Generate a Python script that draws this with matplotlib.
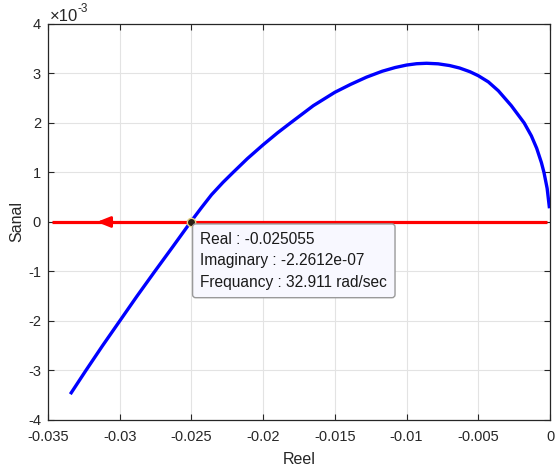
"""Nyquist locus with a data tip at the real-axis crossing."""

import matplotlib.pyplot as plt

plt.rcParams["font.family"] = ["Liberation Sans", "DejaVu Sans"]
plt.rcParams["axes.unicode_minus"] = False

# positive-frequency branch (real part, imaginary part in units of 1e-3)
locus_real = [-0.03338, -0.03236, -0.0312, -0.0300, -0.0288, -0.02756,
              -0.0263, -0.025055, -0.0243, -0.0236, -0.0228, -0.0221,
              -0.0211, -0.0200, -0.0190, -0.0181, -0.0165, -0.0150,
              -0.0139, -0.0128, -0.0117, -0.0108, -0.0100, -0.0093,
              -0.0086, -0.0078, -0.0070, -0.0063, -0.00558, -0.0050,
              -0.0043, -0.0036, -0.0027, -0.0018, -0.0013, -0.00093,
              -0.0006, -0.00042, -0.0002, -0.00005]
locus_imag = [-3.45, -3.0, -2.5, -2.0, -1.5, -1.0,
              -0.5, 0.0, 0.29, 0.55, 0.8, 1.0,
              1.28, 1.56, 1.8, 2.0, 2.35, 2.62,
              2.78, 2.925, 3.045, 3.12, 3.17, 3.197,
              3.206, 3.195, 3.16, 3.11, 3.035, 2.955,
              2.83, 2.65, 2.35, 2.0, 1.74, 1.49,
              1.2, 1.0, 0.68, 0.31]

# real-axis segment (imaginary part ~ 0)
axis_real = [-0.0347, -0.0002]
axis_imag = [0.0, 0.0]
arrow_real = [-0.0305, -0.0316]

tip_real = -0.025055
tip_imag = -2.2612e-07
tip_freq = 32.911

x_ticks = [-0.035, -0.03, -0.025, -0.02, -0.015, -0.01, -0.005, 0]
x_tick_labels = ["-0.035", "-0.03", "-0.025", "-0.02", "-0.015", "-0.01", "-0.005", "0"]
y_ticks = [-4, -3, -2, -1, 0, 1, 2, 3, 4]

fig = plt.figure(figsize=(5.55, 4.7), dpi=100)
ax = fig.add_axes([0.0865, 0.1064, 0.9045, 0.8426])

ax.plot(axis_real, axis_imag, color="#ff0000", lw=2.3, solid_capstyle="butt", zorder=3)
ax.annotate("", xy=(arrow_real[1], 0), xytext=(arrow_real[0], 0),
            arrowprops=dict(arrowstyle="-|>,head_length=0.8,head_width=0.32",
                            color="#ff0000", lw=2.0, shrinkA=0, shrinkB=0),
            zorder=3)
ax.plot(locus_real, locus_imag, color="#0000ff", lw=2.4, solid_joinstyle="round",
        zorder=4)

ax.plot([tip_real], [tip_imag * 1e3], "o", ms=6, mfc="#2a1f14", mec="#e6d48a",
        mew=1.0, zorder=6)
ax.annotate(
    f"Real : {tip_real}\nImaginary : {tip_imag:.4e}\nFrequancy : {tip_freq} rad/sec",
    xy=(tip_real, tip_imag * 1e3), xytext=(7.0, -7.0), textcoords="offset points",
    ha="left", va="top", fontsize=11.2, color="#1a1a1a", linespacing=1.55,
    bbox=dict(boxstyle="round,pad=0.5,rounding_size=0.2", fc="#f8f8ff",
              ec="#9a9a9a", lw=1.0),
    zorder=7,
)

ax.set_xlim(-0.035, 0)
ax.set_ylim(-4, 4)
ax.set_xticks(x_ticks)
ax.set_xticklabels(x_tick_labels)
ax.set_yticks(y_ticks)
ax.tick_params(direction="in", top=True, right=True, labelsize=10.5,
               colors="#262626", length=4, width=0.8)
ax.tick_params(axis="x", pad=7)
ax.tick_params(axis="y", pad=5)
ax.grid(True, color="#e3e3e3", lw=0.8)
ax.set_axisbelow(True)
for side in ax.spines.values():
    side.set_color("#262626")
    side.set_linewidth(0.9)

ax.set_xlabel("Reel", fontsize=11.5, color="#262626", labelpad=6)
ax.set_ylabel("Sanal", fontsize=11.5, color="#262626", labelpad=3)

# axis exponent, written as base plus raised power
fig.text(50 / 555, 1 - 21 / 470, "\u00d710", fontsize=12, color="#262626",
         ha="left", va="baseline")
fig.text(77 / 555, 1 - 12 / 470, "-3", fontsize=8.5, color="#262626",
         ha="left", va="baseline")

fig.savefig("out.png", dpi=100)
